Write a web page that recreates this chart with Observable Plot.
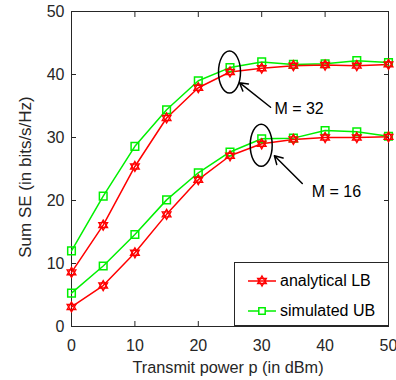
<!DOCTYPE html>
<html>
<head>
<meta charset="utf-8">
<script src="https://cdn.jsdelivr.net/npm/d3@7"></script>
<script src="https://cdn.jsdelivr.net/npm/@observablehq/plot@0.6"></script>
<style>
  html, body { margin: 0; padding: 0; background: #fff; }
  #wrap { position: relative; width: 396px; height: 380px; font-family: "Liberation Sans", Arial, Helvetica, sans-serif; }
  #legend { position: absolute; left: 234px; top: 262px; width: 155px; height: 64px; box-sizing: border-box;
            border: 1px solid #262626; background: #fff; }
  .row { position: absolute; left: 12px; height: 20px; display: flex; align-items: center; font-size: 16px; color: #000; }
  .row svg { margin-right: 3px; }
</style>
</head>
<body>
<div id="wrap"></div>
<script>
// ---- data ----
const powers = [0, 5, 10, 15, 20, 25, 30, 35, 40, 45, 50];
const lb32 = [8.6, 16.1, 25.4, 33.1, 37.9, 40.4, 41.0, 41.4, 41.5, 41.4, 41.6];
const ub32 = [12.0, 20.7, 28.6, 34.4, 39.0, 41.1, 42.0, 41.6, 41.7, 42.2, 41.9];
const lb16 = [3.1, 6.5, 11.7, 17.8, 23.3, 27.1, 29.0, 29.7, 30.0, 30.0, 30.1];
const ub16 = [5.3, 9.6, 14.6, 20.1, 24.4, 27.7, 29.8, 29.9, 31.1, 30.9, 30.2];
const xTicks = [0, 10, 20, 30, 40, 50];
const yTicks = [0, 10, 20, 30, 40, 50];
const seriesNames = ["analytical LB", "simulated UB"];
const xTitle = "Transmit power p (in dBm)";
const yTitle = "Sum SE (in bits/s/Hz)";
const annotText = ["M = 32", "M = 16"];
const ellipseX = [25, 30];
const ellipseY = [40.3, 28.7];
const arrowX1 = [31.4, 36.4];
const arrowY1 = [34.8, 22.7];
const arrowX2 = [26.5, 32.0];
const arrowY2 = [38.7, 27.1];
const annotX = [32.0, 37.9];
const annotY = [34.6, 21.3];

const RED = "#ff0000", GREEN = "#00f000", AX = "#262626";

const rows = [];
powers.forEach((p, i) => {
  rows.push({p, v: lb32[i], kind: "LB", M: 32});
  rows.push({p, v: ub32[i], kind: "UB", M: 32});
  rows.push({p, v: lb16[i], kind: "LB", M: 16});
  rows.push({p, v: ub16[i], kind: "UB", M: 16});
});
const lbRows = rows.filter(d => d.kind === "LB");
const ubRows = rows.filter(d => d.kind === "UB");
const ellipses = ellipseX.map((x, i) => ({x, y: ellipseY[i]}));
const arrows = arrowX1.map((x1, i) => ({x1, y1: arrowY1[i], x2: arrowX2[i], y2: arrowY2[i]}));
const annots = annotText.map((t, i) => ({t, x: annotX[i], y: annotY[i]}));

const chart = Plot.plot({
  width: 396,
  height: 380,
  marginLeft: 71,
  marginRight: 8,
  marginTop: 11,
  marginBottom: 54,
  style: {fontFamily: '"Liberation Sans", Arial, Helvetica, sans-serif', background: "#fff", color: AX},
  x: {domain: [0, 50]},
  y: {domain: [0, 50]},
  marks: [
    // inward ticks on all four sides
    Plot.axisX(xTicks, {anchor: "bottom", tickSize: 5, dy: -5, fill: "none", stroke: AX, label: null}),
    Plot.axisX(xTicks, {anchor: "top", tickSize: 5, dy: 5, fill: "none", stroke: AX, label: null}),
    Plot.axisY(yTicks, {anchor: "left", tickSize: 5, dx: 5, fill: "none", stroke: AX, label: null}),
    Plot.axisY(yTicks, {anchor: "right", tickSize: 5, dx: -5, fill: "none", stroke: AX, label: null}),
    // tick labels
    Plot.axisX(xTicks, {anchor: "bottom", tickSize: 0, tickPadding: 13, fontSize: 16, fill: AX, label: null}),
    Plot.axisY(yTicks, {anchor: "left", tickSize: 0, tickPadding: 7, fontSize: 16, fill: AX, label: null}),
    // axis titles
    Plot.text([xTitle], {frameAnchor: "bottom", textAnchor: "middle", lineAnchor: "middle", dx: -2, dy: 41, fontSize: 16.3, fill: AX}),
    Plot.text([yTitle], {frameAnchor: "left", textAnchor: "middle", lineAnchor: "middle", rotate: -90, dx: -46, dy: 8, fontSize: 17, fill: AX}),
    Plot.frame({stroke: AX, strokeWidth: 1}),
    // series
    Plot.line(ubRows, {x: "p", y: "v", z: "M", stroke: GREEN, strokeWidth: 1.5}),
    Plot.line(lbRows, {x: "p", y: "v", z: "M", stroke: RED, strokeWidth: 1.5}),
    Plot.dot(ubRows, {x: "p", y: "v", symbol: "square", r: 4.3, stroke: GREEN, strokeWidth: 1.5, fill: "none"}),
    Plot.dot(lbRows, {x: "p", y: "v", symbol: "triangle", r: 3.2, stroke: RED, strokeWidth: 1.4, fill: "none"}),
    Plot.dot(lbRows, {x: "p", y: "v", symbol: "triangle", rotate: 180, r: 3.2, stroke: RED, strokeWidth: 1.4, fill: "none"}),
    // annotations
    Plot.dot(ellipses, {x: "x", y: "y", render(index, scales, values) {
      const g = d3.create("svg:g");
      for (const i of index) {
        g.append("ellipse")
          .attr("cx", values.x[i]).attr("cy", values.y[i])
          .attr("rx", 11).attr("ry", 21)
          .attr("fill", "none").attr("stroke", "#000").attr("stroke-width", 1.5);
      }
      return g.node();
    }}),
    Plot.arrow(arrows, {x1: "x1", y1: "y1", x2: "x2", y2: "y2", stroke: "#000", strokeWidth: 1.5, headLength: 9}),
    Plot.text(annots, {x: "x", y: "y", text: "t", textAnchor: "start", fontSize: 16, fill: "#000"})
  ]
});

const wrap = document.getElementById("wrap");
wrap.appendChild(chart);

// legend overlaid inside the plot area (bottom-right)
const triPath = d3.symbol(d3.symbolTriangle, Math.PI * 3.2 * 3.2)();
const sqPath = d3.symbol(d3.symbolSquare, Math.PI * 3.6 * 3.6)();
const legend = document.createElement("div");
legend.id = "legend";
const samples = [
  `<svg width="30" height="16"><line x1="1" y1="8" x2="29" y2="8" stroke="${RED}" stroke-width="1.5"/>
     <path d="${triPath}" transform="translate(15,8)" fill="none" stroke="${RED}" stroke-width="1.4"/>
     <path d="${triPath}" transform="translate(15,8) rotate(180)" fill="none" stroke="${RED}" stroke-width="1.4"/></svg>`,
  `<svg width="30" height="16"><line x1="1" y1="8" x2="29" y2="8" stroke="${GREEN}" stroke-width="1.5"/>
     <path d="${sqPath}" transform="translate(15,8)" fill="#fff" stroke="${GREEN}" stroke-width="1.5"/></svg>`
];
seriesNames.forEach((name, i) => {
  const r = document.createElement("div");
  r.className = "row";
  r.style.top = (i === 0 ? 8 : 38) + "px";
  r.innerHTML = samples[i] + `<span>${name}</span>`;
  legend.appendChild(r);
});
wrap.appendChild(legend);
</script>
</body>
</html>
